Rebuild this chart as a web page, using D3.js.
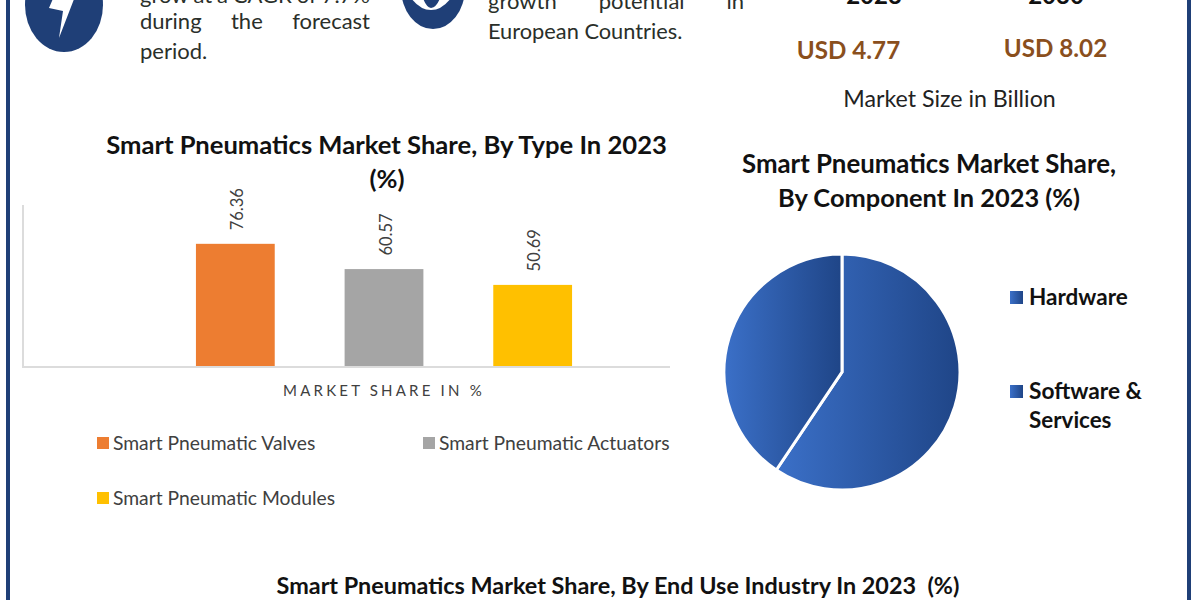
<!DOCTYPE html>
<html><head><meta charset="utf-8">
<script src="https://cdn.jsdelivr.net/npm/d3@7"></script>
<style>html,body{margin:0;padding:0;background:#fff}svg{display:block}text{font-family:Lato,"Noto Sans",sans-serif;white-space:pre}</style>
</head><body><div id="c"></div>
<script>
const barCategories=["Smart Pneumatic Valves","Smart Pneumatic Actuators","Smart Pneumatic Modules"];
const barValues=[76.36,60.57,50.69];
const barColors=["#ed7d31","#a5a5a5","#ffc000"];
const pieCategories=["Hardware","Software & Services"];
const pieValues=[59.4,40.6];
const marketYears=["2023","2030"];
const marketValues=["USD 4.77","USD 8.02"];

const W=1200,H=600,navy="#1f3f77";
const svg=d3.select("#c").append("svg").attr("width",W).attr("height",H).attr("viewBox",`0 0 ${W} ${H}`);
const defs=svg.append("defs");
const grad=defs.append("linearGradient").attr("id","pg").attr("x1","0%").attr("x2","100%").attr("y1","0%").attr("y2","0%");
grad.append("stop").attr("offset","0%").attr("stop-color","#3b70c8");
grad.append("stop").attr("offset","100%").attr("stop-color","#1f4587");

// frame
svg.append("rect").attr("x",6).attr("y",0).attr("width",4).attr("height",H).attr("fill",navy);
svg.append("rect").attr("x",1187).attr("y",0).attr("width",4).attr("height",H).attr("fill",navy);

function txt(x,y,s,o={}){
  return svg.append("text").attr("x",x).attr("y",y).text(s)
    .attr("font-size",o.size||20).attr("font-weight",o.weight||400)
    .attr("fill",o.fill||"#222").attr("text-anchor",o.anchor||"start");
}
function just(words,x0,x1,y,size){
  const n=words.length;
  const probe=words.map(w=>{const t=txt(0,-50,w,{size});const l=t.node().getComputedTextLength();t.remove();return l;});
  const gap=(x1-x0-d3.sum(probe))/(n-1);
  let x=x0;
  words.forEach((w,i)=>{txt(x,y,w,{size,fill:"#2a2f2a"});x+=probe[i]+gap;});
}

// callouts
svg.append("ellipse").attr("cx",64).attr("cy",5).attr("rx",39).attr("ry",47).attr("fill",navy);
svg.append("path").attr("d","M55 -6 L76 -6 L59 38 L63 11 L49 8 Z").attr("fill","#fff");
just(["grow","at","a","CAGR","of","7.7%"],140,370,3,22);
just(["during","the","forecast"],140,370,29,22);
txt(140,59,"period.",{size:22,fill:"#2a2f2a"});

svg.append("ellipse").attr("cx",433).attr("cy",-12).attr("rx",32).attr("ry",41).attr("fill",navy);
svg.append("path").attr("d","M411 -2 Q420 10 431 10 Q442 10 451 -2 Z").attr("fill","#fff");
svg.append("path").attr("d","M423 -2 Q426 7 431 8 Q437 7 440 -2 Z").attr("fill",navy);
just(["growth","potential","in"],488,744,9,22);
txt(488,39,"European Countries.",{size:21.8,fill:"#2a2f2a"});

// market size
marketYears.forEach((y,i)=>txt([874,1056][i],4,y,{size:24,weight:700,fill:"#111",anchor:"middle"}));
marketValues.forEach((v,i)=>txt([848.5,1055.5][i],[59,57][i],v,{size:24.2,weight:700,fill:"#8a4f1d",anchor:"middle"}));
txt(949.5,107,"Market Size in Billion",{size:23.2,fill:"#222",anchor:"middle"});

// bar chart
txt(386.5,154,"Smart Pneumatics Market Share, By Type In 2023",{size:25.6,weight:700,fill:"#111",anchor:"middle"});
txt(387,188,"(%)",{size:25.6,weight:700,fill:"#111",anchor:"middle"});
const x=d3.scaleBand().domain(barCategories).range([161,607]).paddingInner(0.47).paddingOuter(0.235);
const y=d3.scaleLinear().domain([0,100]).range([366,206]);
const g=svg.append("g");
g.selectAll("rect").data(barValues).join("rect")
  .attr("x",(d,i)=>x(barCategories[i])).attr("width",x.bandwidth())
  .attr("y",d=>y(d)).attr("height",d=>y(0)-y(d))
  .attr("fill",(d,i)=>barColors[i]);
g.selectAll("text").data(barValues).join("text")
  .attr("transform",(d,i)=>`translate(${x(barCategories[i])+x.bandwidth()/2+7.5},${y(d)-13.5}) rotate(-90)`)
  .text(d=>d.toFixed(2)).attr("font-size",16.5).attr("fill","#404040");
svg.append("path").attr("d",`M23 ${y(100)-1} V${y(0)+1} H670`).attr("fill","none").attr("stroke","#dcdcdc").attr("stroke-width",2);
txt(384,396,"MARKET SHARE IN %",{size:15,fill:"#404040",anchor:"middle"}).attr("letter-spacing",3.2);

// bar legend
const lx=[97,423,97],ly=[443,443,498];
barCategories.forEach((c,i)=>{
  svg.append("rect").attr("x",lx[i]).attr("y",ly[i]-6).attr("width",12).attr("height",12).attr("fill",barColors[i]);
  txt(lx[i]+16,ly[i]+7,c,{size:19.3,fill:"#404040"});
});

// pie
txt(929,173,"Smart Pneumatics Market Share,",{size:25.8,weight:700,fill:"#111",anchor:"middle"});
txt(929,207,"By Component In 2023 (%)",{size:25.4,weight:700,fill:"#111",anchor:"middle"});
const pie=d3.pie().sort(null)(pieValues);
const arc=d3.arc().innerRadius(0).outerRadius(118);
svg.append("g").attr("transform","translate(842,372)").selectAll("path").data(pie).join("path")
  .attr("d",arc).attr("fill","url(#pg)").attr("stroke","#fff").attr("stroke-width",3);

// pie legend
const plY=[297,391];
pieCategories.forEach((c,i)=>{
  svg.append("rect").attr("x",1010).attr("y",plY[i]-6).attr("width",13).attr("height",13).attr("fill","url(#pg)");
});
txt(1029,305,"Hardware",{size:22.5,weight:700,fill:"#111"});
txt(1029,399,"Software &",{size:22.7,weight:700,fill:"#111"});
txt(1029,428,"Services",{size:22.4,weight:700,fill:"#111"});

// bottom title
txt(618,594,"Smart Pneumatics Market Share, By End Use Industry In 2023  (%)",{size:23.4,weight:700,fill:"#111",anchor:"middle"});
</script></body></html>
